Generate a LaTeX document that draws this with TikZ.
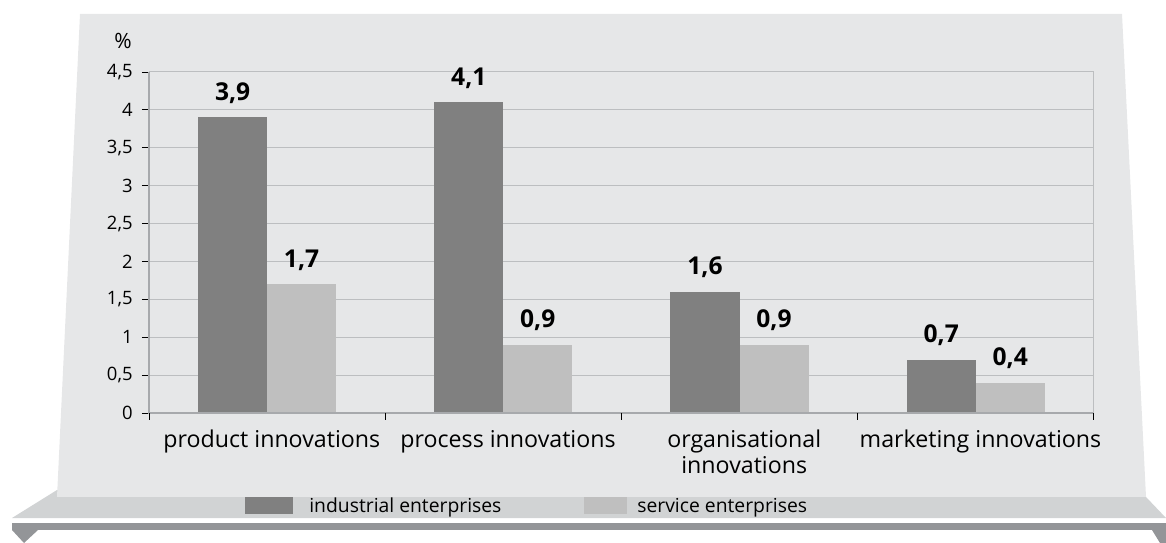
\documentclass[tikz,border=0pt]{standalone}
\usepackage{fontspec}
\setmainfont{Open Sans}
\definecolor{panelgray}{HTML}{E6E7E8}
\definecolor{standgray}{HTML}{D1D3D4}
\definecolor{footgray}{HTML}{939598}
\definecolor{indgray}{HTML}{808080}
\definecolor{sergray}{HTML}{BFBFBF}
\definecolor{gridgray}{HTML}{BCBEC0}
\definecolor{axisgray}{HTML}{A7A9AC}
\begin{document}
\begin{tikzpicture}[x=0.02cm,y=-0.02cm,
    tick/.style={font=\fontsize{10.5}{12}\selectfont,inner sep=0pt},
    val/.style={font=\fontsize{14}{16}\selectfont\bfseries,inner sep=0pt,anchor=base},
    cat/.style={font=\fontsize{13.2}{14.6}\selectfont,inner sep=0pt,anchor=north,align=center},
    leg/.style={font=\fontsize{11}{13}\selectfont,inner sep=0pt,anchor=base west}]
  \useasboundingbox (0,0) rectangle (1166,543);
  % stand and panel
  \fill[footgray] (12,523) rectangle (1166,530);
  \fill[footgray] (12,530)--(38,530)--(24,543)--cycle;
  \fill[footgray] (1152,530)--(1166,530)--(1166,543)--(1160,543)--cycle;
  \fill[standgray] (57,490)--(1146,497)--(1166,518)--(12,518)--cycle;
  \fill[panelgray] (80,14)--(1122,14)--(1146,497)--(57,497)--cycle;
  \coordinate (O) at (149,413);
  \node (pct) at (123,41) [tick,font=\fontsize{12}{14}\selectfont] {\%};
  % legend
  \fill[indgray] (245,497) rectangle (293,514);
  \node (legind) at (309,513) [leg] {industrial enterprises};
  \fill[sergray] (584,497) rectangle (627,514);
  \node (legser) at (637,513) [leg] {service enterprises};
  \begin{scope}[shift={(O)},x=4.725cm,y=1.516cm]
    \foreach \y/\lab [count=\i] in {0/0,0.5/{0,5},1/1,1.5/{1,5},2/2,2.5/{2,5},3/3,3.5/{3,5},4/4,4.5/{4,5}}{
      \draw[gridgray,line width=0.6pt] (0,\y)--(4,\y);
      \draw[line width=0.5pt] (-0.03,\y)--(0,\y);
      \node (tick\i) at (-0.068,\y) [tick,anchor=east] {\lab};
    }
    \foreach \c/\a/\alab/\b/\blab [count=\i] in {0/3.9/{3,9}/1.7/{1,7},1/4.1/{4,1}/0.9/{0,9},2/1.6/{1,6}/0.9/{0,9},3/0.7/{0,7}/0.4/{0,4}}{
      \fill[indgray] (\c+0.2074,0) rectangle (\c+0.5,\a);
      \fill[sergray] (\c+0.5,0) rectangle (\c+0.7926,\b);
      \node (vind\i) at (\c+0.354,\a+0.224) [val] {\alab};
      \node (vser\i) at (\c+0.646,\b+0.224) [val] {\blab};
    }
    \draw[axisgray,line width=0.8pt] (0,4.5)--(0,0)--(4,0);
    \draw[gridgray,line width=0.6pt] (4,0)--(4,4.5);
    \foreach \c in {0,...,4}
      \draw[line width=0.5pt] (\c,0)--(\c,-0.092);
    \foreach \c/\lab [count=\i] in {0/product innovations,1/process innovations,2/{organisational\\innovations},3/marketing innovations}
      \node (cat\i) at (\c+0.52,-0.224) [cat] {\lab};
  \end{scope}
\end{tikzpicture}
\end{document}
